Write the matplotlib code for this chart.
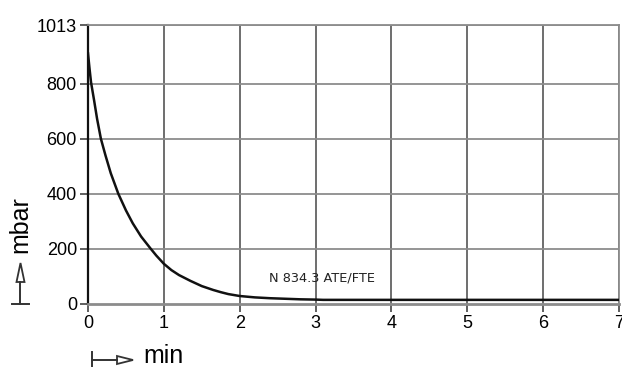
import matplotlib
matplotlib.use("Agg")
import matplotlib.pyplot as plt
from matplotlib.lines import Line2D
from matplotlib.patches import Polygon

# pump-down curve
t_min = [0.0, 0.02, 0.04, 0.08, 0.12, 0.17, 0.23, 0.3, 0.4, 0.5, 0.59, 0.7, 0.82, 0.9,
         1.0, 1.1, 1.2, 1.35, 1.5, 1.65, 1.75, 1.85, 2.0, 2.2, 2.4, 2.6, 2.8, 3.0, 3.1,
         4.0, 5.0, 6.0, 7.0]
p_mbar = [910, 855, 805, 740, 672, 600, 540, 475, 400, 340, 293, 245, 203, 176,
          146, 123, 105, 84, 65, 51, 43, 36, 29, 24, 21, 19, 17, 16, 15,
          15, 15, 15, 15]

x_ticks = [0, 1, 2, 3, 4, 5, 6, 7]
y_ticks = [0, 200, 400, 600, 800, 1013]
curve_label = "N 834.3 ATE/FTE"

plt.rcParams['font.family'] = ['Liberation Sans', 'DejaVu Sans']

fig = plt.figure(figsize=(6.22, 3.67), dpi=100)
ax = fig.add_axes([88 / 622, 1 - 304 / 367, (619 - 88) / 622, (304 - 25) / 367])

ax.set_xlim(0, 7)
ax.set_ylim(0, 1013)

for x in x_ticks[1:]:
    ax.axvline(x, color="#555555", lw=1.2, zorder=1)
for y in y_ticks[1:]:
    ax.axhline(y, color="#8c8c8c", lw=1.3, zorder=1)

ax.plot(t_min, p_mbar, color="#111111", lw=1.8, zorder=3, solid_joinstyle="round")
ax.text(2.38, 96, curve_label, fontsize=9.3, color="#222222", va="center", ha="left",
        family="Liberation Sans Narrow")

ax.set_xticks(x_ticks)
ax.set_yticks(y_ticks)
ax.tick_params(axis="both", length=6, width=1.2, color="#444444", labelsize=13, pad=2)
ax.set_xticklabels([str(v) for v in x_ticks])
ax.set_yticklabels([str(v) for v in y_ticks])

for side in ["top", "right", "bottom"]:
    ax.spines[side].set_color("#8c8c8c")
    ax.spines[side].set_linewidth(1.3)
ax.spines["bottom"].set_linewidth(2.0)
ax.spines["left"].set_color("#111111")
ax.spines["left"].set_linewidth(1.6)

# axis labels with the "|->" arrows
fig.text(20 / 622, 1 - 225 / 367, "mbar", rotation=90, fontsize=18, ha="center", va="center")
fig.text(143 / 622, 1 - 356 / 367, "min", fontsize=18, ha="left", va="center")

def fx(px):
    return px / 622

def fy(py):
    return 1 - py / 367

# vertical arrow for mbar
fig.add_artist(Line2D([fx(12), fx(29)], [fy(304), fy(304)], color="#333333", lw=1.4))
fig.add_artist(Line2D([fx(20.5), fx(20.5)], [fy(304), fy(282)], color="#333333", lw=1.4))
fig.add_artist(Polygon([[fx(16.5), fy(282)], [fx(24.5), fy(282)], [fx(20.5), fy(263)]],
                       closed=True, fill=False, edgecolor="#333333", lw=1.3))
# horizontal arrow for min
fig.add_artist(Line2D([fx(91.5), fx(91.5)], [fy(352), fy(367)], color="#333333", lw=1.4))
fig.add_artist(Line2D([fx(91.5), fx(117)], [fy(360), fy(360)], color="#333333", lw=1.4))
fig.add_artist(Polygon([[fx(117), fy(356)], [fx(117), fy(364)], [fx(133), fy(360)]],
                       closed=True, fill=False, edgecolor="#333333", lw=1.3))

fig.savefig("out.png", dpi=100)
